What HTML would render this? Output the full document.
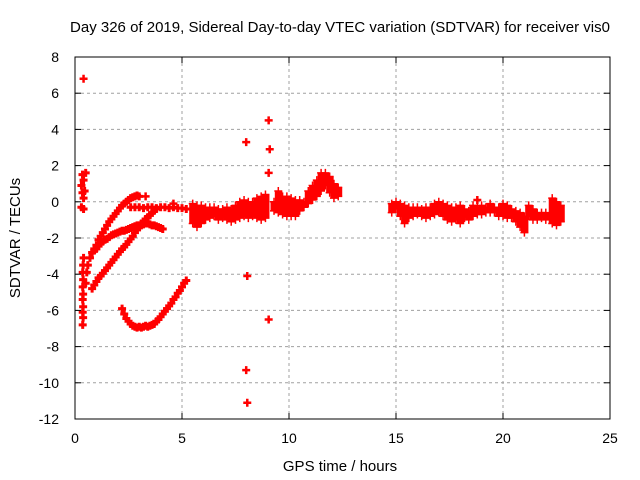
<!DOCTYPE html>
<html><head><meta charset="utf-8"><style>
body{margin:0;background:#fff}
svg{display:block;font-family:"Liberation Sans",sans-serif}
</style></head><body>
<svg id="c" width="640" height="480" viewBox="0 0 640 480">
<rect width="640" height="480" fill="#fff"/>
<text x="340" y="32" text-anchor="middle" font-size="15">Day 326 of 2019, Sidereal Day-to-day VTEC variation (SDTVAR) for receiver vis0</text>
<g id="grid"></g>
<g id="marks"></g>
<rect x="75" y="57" width="535" height="362" fill="none" stroke="#000" stroke-width="1"/>
<g id="ticks"></g>
<text x="340" y="471" text-anchor="middle" font-size="15">GPS time / hours</text>
<text x="20" y="238" text-anchor="middle" font-size="15" transform="rotate(-90 20 238)">SDTVAR / TECUs</text>
</svg>
<script>
const xTicks=[0,5,10,15,20,25];
const yTicks=[8,6,4,2,0,-2,-4,-6,-8,-10,-12];
// isolated points [hour, TECU]
const points=[[0.4,6.8],[8.0,3.3],[8.05,-4.1],[8.0,-9.3],[8.05,-11.1],[9.05,4.5],[9.1,2.9],[9.05,1.6],[9.05,-6.5],[18.8,0.1],[3.3,0.3],[4.6,-0.1]];
// vertical strip near start and dense tracks [hour, TECU]
const strip=[[0.35,1.5],[0.4,1.2],[0.3,0.9],[0.35,0.5],[0.4,0.2],[0.3,-0.3],[0.4,-0.4],[0.4,-3.1],[0.38,-3.5],[0.36,-3.9],[0.38,-4.3],[0.36,-4.7],[0.38,-5.1],[0.36,-5.4],[0.38,-5.8],[0.36,-6.1],[0.38,-6.4],[0.36,-6.8],[0.5,1.6],[0.45,0.6]];
const upper=[[0.5,-4.5],[0.55,-3.9],[0.6,-3.5],[0.7,-3.1],[0.8,-2.8],[0.9,-2.6],[1.0,-2.4],[1.1,-2.1],[1.2,-1.9],[1.3,-1.7],[1.4,-1.5],[1.5,-1.3],[1.6,-1.1],[1.7,-0.95],[1.8,-0.8],[1.9,-0.65],[2.0,-0.5],[2.1,-0.35],[2.2,-0.2],[2.3,-0.1],[2.4,0],[2.5,0.1],[2.6,0.2],[2.7,0.25],[2.8,0.3],[2.9,0.35],[3.0,0.3]];
const flat=[[2.6,-0.3],[2.8,-0.3],[3.0,-0.3],[3.2,-0.35],[3.4,-0.3],[3.6,-0.3],[3.8,-0.35],[4.0,-0.3],[4.2,-0.3],[4.4,-0.35],[4.6,-0.3],[4.8,-0.35],[5.0,-0.35],[5.2,-0.4]];
const middle=[[0.9,-2.7],[1.0,-2.6],[1.1,-2.45],[1.2,-2.3],[1.3,-2.2],[1.4,-2.1],[1.5,-2.05],[1.6,-1.95],[1.7,-1.85],[1.8,-1.8],[1.9,-1.75],[2.0,-1.7],[2.1,-1.65],[2.2,-1.6],[2.3,-1.6],[2.4,-1.55],[2.5,-1.5],[2.6,-1.45],[2.7,-1.4],[2.8,-1.35],[2.9,-1.3],[3.0,-1.3],[3.1,-1.3],[3.2,-1.25],[3.3,-1.2],[3.4,-1.2],[3.5,-1.25],[3.6,-1.3],[3.7,-1.3],[3.8,-1.35],[3.9,-1.4],[4.0,-1.45],[4.1,-1.5]];
const lower=[[0.8,-4.8],[0.9,-4.6],[1.0,-4.4],[1.1,-4.2],[1.2,-4.1],[1.3,-3.95],[1.4,-3.8],[1.5,-3.65],[1.6,-3.5],[1.7,-3.35],[1.8,-3.2],[1.9,-3.05],[2.0,-2.9],[2.1,-2.75],[2.2,-2.6],[2.3,-2.5],[2.4,-2.35],[2.5,-2.2],[2.6,-2.05],[2.7,-1.9],[2.8,-1.7],[2.9,-1.55],[3.0,-1.4],[3.1,-1.2],[3.2,-1.1],[3.3,-0.95],[3.4,-0.85],[3.5,-0.75],[3.6,-0.6],[3.7,-0.5],[3.8,-0.4]];
const bowl=[[2.2,-5.9],[2.3,-6.2],[2.4,-6.45],[2.5,-6.6],[2.6,-6.75],[2.7,-6.85],[2.8,-6.9],[2.9,-6.95],[3.0,-6.9],[3.1,-6.95],[3.2,-6.9],[3.3,-6.85],[3.4,-6.9],[3.5,-6.85],[3.6,-6.8],[3.7,-6.75],[3.8,-6.6],[3.9,-6.5],[4.0,-6.35],[4.1,-6.2],[4.2,-6.05],[4.3,-5.9],[4.4,-5.75],[4.5,-5.6],[4.6,-5.4],[4.7,-5.25],[4.8,-5.05],[4.9,-4.9],[5.0,-4.7],[5.1,-4.5],[5.2,-4.35]];
// noisy blobs [hour, top TECU, bottom TECU]
const blobs=[[5.5,-0.1,-1.2],[5.7,-0.2,-1.4],[5.9,-0.2,-1.2],[6.1,-0.3,-1.0],[6.3,-0.3,-0.9],[6.5,-0.3,-0.8],[6.7,-0.4,-1.0],[6.9,-0.4,-0.9],[7.1,-0.3,-1.0],[7.3,-0.4,-1.1],[7.5,-0.2,-1.0],[7.7,0.0,-0.9],[7.9,0.1,-0.8],[8.1,0.0,-0.9],[8.3,0.0,-0.8],[8.5,0.2,-0.9],[8.7,0.3,-1.0],[8.9,0.4,-0.9],
[9.3,0.0,-0.5],[9.5,0.6,-0.6],[9.7,0.3,-0.7],[9.9,0.3,-0.8],[10.1,0.2,-0.8],[10.3,0.1,-0.8],[10.5,0.1,-0.5],[10.7,0.0,-0.3],[10.9,0.6,-0.1],[11.1,0.9,0.1],[11.3,1.2,0.3],[11.5,1.6,0.6],[11.7,1.6,0.9],[11.9,1.4,0.5],[12.1,1.0,0.2],[12.3,0.8,0.3],
[14.8,-0.1,-0.6],[15.0,0.0,-0.4],[15.2,-0.1,-0.8],[15.4,-0.2,-1.2],[15.6,-0.3,-0.9],[15.8,-0.3,-0.8],[16.0,-0.3,-0.7],[16.2,-0.4,-0.8],[16.4,-0.3,-0.9],[16.6,-0.3,-0.8],[16.8,-0.1,-0.7],[17.0,0.0,-0.6],[17.2,-0.1,-0.8],[17.4,-0.2,-1.0],[17.6,-0.3,-1.1],[17.8,-0.3,-1.0],[18.0,-0.2,-1.2],[18.2,-0.4,-0.9],[18.4,-0.5,-1.0],[18.6,-0.2,-0.8],[18.8,-0.3,-0.7],[19.0,-0.2,-0.7],[19.2,-0.3,-0.6],[19.4,-0.1,-0.6],[19.6,-0.3,-0.6],[19.8,-0.3,-0.8],[20.0,-0.1,-0.8],[20.2,-0.2,-0.9],[20.4,-0.4,-0.9],[20.6,-0.5,-1.1],[20.8,-0.6,-1.4],[21.0,-0.8,-1.7],[21.2,-0.2,-0.8],[21.4,-0.4,-1.0],[21.6,-0.6,-1.0],[21.8,-0.6,-0.9],[22.0,-0.6,-1.0],[22.3,0.2,-1.2],[22.5,0.0,-1.3],[22.7,-0.2,-1.1]];
const X0=75,X1=610,Y0=419,Y1=57;
const sx=v=>X0+(v-0)/(25-0)*(X1-X0);
const sy=v=>Y0-(v-(-12))/(8-(-12))*(Y0-Y1);
const NS='http://www.w3.org/2000/svg';
const mk=(t,a,p)=>{const e=document.createElementNS(NS,t);for(const k in a)e.setAttribute(k,a[k]);p.appendChild(e);return e;};
const grid=document.getElementById('grid'),ticks=document.getElementById('ticks'),marks=document.getElementById('marks');
xTicks.forEach(t=>{const x=sx(t);
 if(t>0&&t<25){const g=mk('line',{x1:x,x2:x,y1:Y1,y2:Y0,stroke:'#a0a0a0','stroke-dasharray':'3,3'},grid);}
 mk('line',{x1:x,x2:x,y1:Y0,y2:Y0-6,stroke:'#000'},ticks);mk('line',{x1:x,x2:x,y1:Y1,y2:Y1+6,stroke:'#000'},ticks);
 const l=mk('text',{x:x,y:443,'text-anchor':'middle','font-size':14},ticks);l.textContent=t;
 
 });
yTicks.forEach(t=>{const y=sy(t);
 if(t>-12&&t<8){const g=mk('line',{x1:X0,x2:X1,y1:y,y2:y,stroke:'#a0a0a0','stroke-dasharray':'3,3'},grid);}
 mk('line',{x1:X0,x2:X0+6,y1:y,y2:y,stroke:'#000'},ticks);mk('line',{x1:X1,x2:X1-6,y1:y,y2:y,stroke:'#000'},ticks);
 const l=mk('text',{x:X0-16,y:y+5,'text-anchor':'end','font-size':14},ticks);l.textContent=t;
 
 });
function plus(x,y,w){const px=sx(x),py=sy(y);
 const p=mk('path',{d:`M${px-4} ${py}H${px+4}M${px} ${py-4}V${py+4}`,stroke:'#f00','stroke-width':w,fill:'none'},marks);
 
 }
points.forEach(d=>plus(d[0],d[1],2.5));
[strip,upper,flat,middle,lower,bowl].forEach(s=>s.forEach(d=>plus(d[0],d[1],3)));
blobs.forEach(b=>{const r=mk('rect',{x:sx(b[0])-3.5,y:sy(b[1]),width:7.5,height:Math.max(2,sy(b[2])-sy(b[1])),fill:'#f00'},marks);
 
 
 plus(b[0],b[1],1.5);plus(b[0],b[2],1.5);});
</script>
</body></html>
